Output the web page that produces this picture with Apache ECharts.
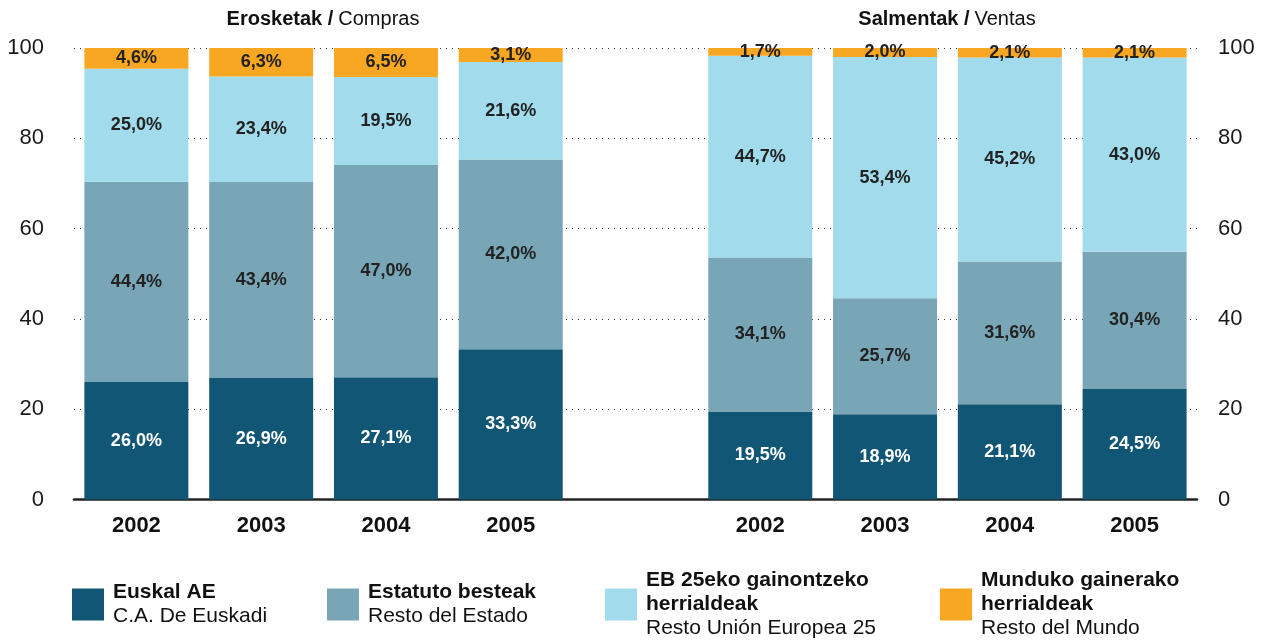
<!DOCTYPE html>
<html>
<head>
<meta charset="utf-8">
<script src="https://cdn.jsdelivr.net/npm/echarts@6/dist/echarts.min.js"></script>
<style>
  html, body { margin: 0; padding: 0; background: #fff; }
  #main { width: 1265px; height: 640px; }
</style>
</head>
<body>
<div id="main"></div>
<script>
// categories: 4 years of purchases, an empty gap, 4 years of sales
const years = ['2002', '2003', '2004', '2005'];
const yTicks = [0, 20, 40, 60, 80, 100];

// Erosketak / Compras
const euskalCompras = [26.0, 26.9, 27.1, 33.3];
const estatutoCompras = [44.4, 43.4, 47.0, 42.0];
const ebCompras = [25.0, 23.4, 19.5, 21.6];
const munduCompras = [4.6, 6.3, 6.5, 3.1];

// Salmentak / Ventas
const euskalVentas = [19.5, 18.9, 21.1, 24.5];
const estatutoVentas = [34.1, 25.7, 31.6, 30.4];
const ebVentas = [44.7, 53.4, 45.2, 43.0];
const munduVentas = [1.7, 2.0, 2.1, 2.1];

const seriesNames = ['Euskal AE', 'Estatuto besteak', 'EB 25eko gainontzeko herrialdeak', 'Munduko gainerako herrialdeak'];
const legendBold = ['Euskal AE', 'Estatuto besteak', 'EB 25eko gainontzeko\nherrialdeak', 'Munduko gainerako\nherrialdeak'];
const legendNormal = ['C.A. De Euskadi', 'Resto del Estado', 'Resto Unión Europea 25', 'Resto del Mundo'];

const colors = ['#115675', '#79A6B6', '#A1DBEC', '#F8A723'];
const labelColors = ['#ffffff', '#222222', '#222222', '#222222'];

const categories = years.concat(['']).concat(years);
const join = (a, b) => a.concat(['-']).concat(b);
const seriesData = [
  join(euskalCompras, euskalVentas),
  join(estatutoCompras, estatutoVentas),
  join(ebCompras, ebVentas),
  join(munduCompras, munduVentas)
];

const fmt = v => v.toFixed(1).replace('.', ',') + '%';

const chart = echarts.init(document.getElementById('main'));

const yAxisBase = {
  type: 'value',
  min: yTicks[0],
  max: yTicks[yTicks.length - 1],
  interval: 20,
  axisLine: { show: false },
  axisTick: { show: false },
  axisLabel: { color: '#1a1a1a', fontSize: 22, fontFamily: 'Liberation Sans' }
};

// one legend box per item so they sit like the original
const legendLeft = [72, 327, 605, 940];
const legendTop = [582, 582, 570, 570];
const legends = seriesNames.map((name, i) => ({
  data: [name],
  left: legendLeft[i],
  top: legendTop[i],
  padding: 0,
  icon: 'rect',
  itemWidth: 32,
  itemHeight: 32,
  selectedMode: false,
  formatter: () => legendBold[i].split('\n').map(s => '{b|' + s + '}').join('\n') + '\n{n|' + legendNormal[i] + '}',
  textStyle: {
    fontFamily: 'Liberation Sans',
    rich: {
      b: { fontSize: 21, fontWeight: 'bold', color: '#111', lineHeight: 24, padding: [0, 0, 0, 4], fontFamily: 'Liberation Sans' },
      n: { fontSize: 21, fontWeight: 'normal', color: '#111', lineHeight: 24, padding: [0, 0, 0, 4], fontFamily: 'Liberation Sans' }
    }
  }
}));

const titleRich = {
  b: { fontSize: 20, fontWeight: 'bold', color: '#111', fontFamily: 'Liberation Sans' },
  n: { fontSize: 20, fontWeight: 'normal', color: '#111', fontFamily: 'Liberation Sans' }
};

const option = {
  animation: false,
  textStyle: { fontFamily: 'Liberation Sans' },
  title: [
    { text: '{b|Erosketak /} {n|Compras}', left: 323, top: 9, textAlign: 'center', padding: 0, textStyle: { fontWeight: 'normal', rich: titleRich } },
    { text: '{b|Salmentak /} {n|Ventas}', left: 947, top: 9, textAlign: 'center', padding: 0, textStyle: { fontWeight: 'normal', rich: titleRich } }
  ],
  legend: legends,
  grid: { left: 74, right: 68, top: 48, bottom: 140.5, containLabel: false },
  xAxis: {
    type: 'category',
    data: categories,
    axisLine: { lineStyle: { color: '#222', width: 2.5 } },
    axisTick: { show: false },
    axisLabel: { color: '#111', fontSize: 22, fontWeight: 'bold', margin: 15 }
  },
  yAxis: [
    Object.assign({}, yAxisBase, {
      position: 'left',
      axisLabel: Object.assign({}, yAxisBase.axisLabel, { margin: 30 }),
      splitLine: { show: true, lineStyle: { color: '#333', width: 1, type: [1, 5] } }
    }),
    Object.assign({}, yAxisBase, {
      position: 'right',
      axisLabel: Object.assign({}, yAxisBase.axisLabel, { margin: 21 }),
      splitLine: { show: false }
    })
  ],
  series: seriesNames.map((name, i) => ({
    name: name,
    type: 'bar',
    stack: 'total',
    barWidth: 104,
    data: seriesData[i],
    itemStyle: { color: colors[i] },
    label: {
      show: true,
      position: 'inside',
      color: labelColors[i],
      fontSize: 18,
      fontWeight: 'bold',
      fontFamily: 'Liberation Sans',
      formatter: p => fmt(p.value)
    }
  }))
};

chart.setOption(option);
</script>
</body>
</html>
